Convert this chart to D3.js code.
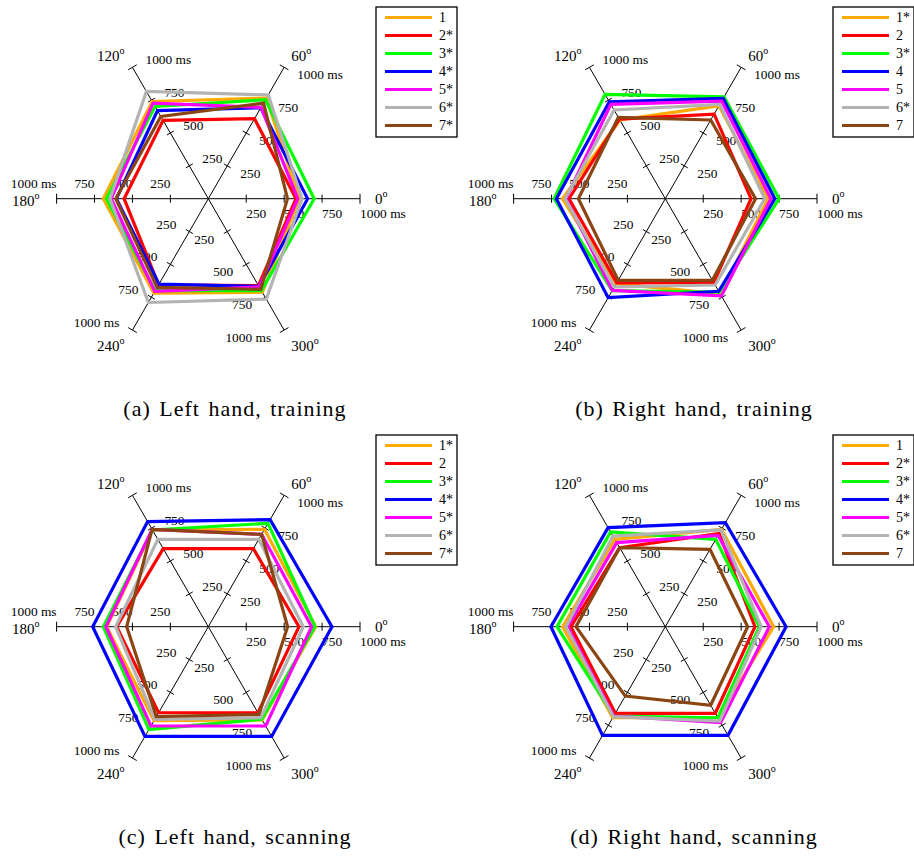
<!DOCTYPE html>
<html>
<head>
<meta charset="utf-8">
<script src="https://cdn.jsdelivr.net/npm/d3@7"></script>
<style>
  body { margin: 0; background: #fff; }
  svg { display: block; }
</style>
</head>
<body>
<svg id="chart" width="914" height="860"></svg>
<script>
// Movement directions (degrees) and radial tick values (ms)
const angles = [0, 60, 120, 180, 240, 300];
const radialTicks = [250, 500, 750, 1000];

const captions = [
  "(a) Left hand, training",
  "(b) Right hand, training",
  "(c) Left hand, scanning",
  "(d) Right hand, scanning"
];

// Legend entries per panel (asterisk marks a significant subject)
const legendA = ["1", "2*", "3*", "4*", "5*", "6*", "7*"];
const legendB = ["1*", "2", "3*", "4", "5", "6*", "7"];
const legendC = ["1*", "2", "3*", "4*", "5*", "6*", "7*"];
const legendD = ["1", "2*", "3*", "4*", "5*", "6*", "7"];

// Mean reaction time (ms) per subject, in the order of `angles`
const leftTraining = [
  [600, 766, 740, 692, 718, 712],
  [578, 609, 596, 555, 655, 661],
  [698, 753, 702, 672, 700, 700],
  [655, 692, 670, 606, 650, 668],
  [590, 695, 728, 640, 706, 672],
  [618, 790, 816, 648, 790, 764],
  [522, 728, 626, 610, 675, 690]
];
const rightTraining = [
  [678, 707, 599, 678, 647, 725],
  [565, 644, 606, 635, 640, 639],
  [750, 775, 794, 733, 700, 712],
  [722, 763, 738, 718, 753, 705],
  [696, 743, 718, 655, 698, 740],
  [656, 718, 675, 661, 672, 657],
  [595, 599, 619, 573, 621, 621]
];
const leftScanning = [
  [708, 741, 736, 670, 715, 710],
  [598, 594, 594, 604, 655, 655],
  [703, 787, 736, 692, 782, 705],
  [815, 815, 800, 762, 835, 835],
  [681, 703, 741, 675, 756, 756],
  [626, 665, 665, 611, 705, 693],
  [523, 703, 741, 538, 685, 668]
];
const rightScanning = [
  [714, 741, 665, 677, 693, 693],
  [591, 710, 602, 622, 659, 659],
  [620, 665, 721, 714, 680, 693],
  [796, 792, 754, 754, 827, 827],
  [686, 695, 640, 644, 680, 730],
  [631, 736, 690, 655, 685, 718],
  [543, 589, 602, 589, 528, 598]
];

const panelValues = [leftTraining, rightTraining, leftScanning, rightScanning];
const panelLegends = [legendA, legendB, legendC, legendD];

const colors = ["#FFAA00", "#FF0000", "#00FF00", "#0000FF", "#FF00FF", "#B3B3B3", "#8B4513"];
const SERIF = "'Liberation Serif', 'Times New Roman', Times, serif";

const svg = d3.select("#chart");
const R = 151.7;
const r = d3.scaleLinear().domain([0, 1000]).range([0, R]);
const rad = a => a * Math.PI / 180;

const panelOrigins = [[0, 0], [457, 0], [0, 428], [457, 428]];
const captionX = [235, 694, 235, 694];

// Angle label placement relative to each axis end
const angleLabelPos = {
  0:   { dx: 15,  dy: 0,   anchor: "start" },
  60:  { dx: 7,   dy: -11, anchor: "start" },
  120: { dx: -8,  dy: -11, anchor: "end" },
  180: { dx: -17, dy: 2,   anchor: "end" },
  240: { dx: -8,  dy: 16,  anchor: "end" },
  300: { dx: 7,   dy: 16,  anchor: "start" }
};

panelValues.forEach((series, pi) => {
  const [ox, oy] = panelOrigins[pi];
  const cx = ox + 208.3, cy = oy + 198.7;
  const g = svg.append("g");
  const pt = (v, a) => [cx + r(v) * Math.cos(rad(a)), cy - r(v) * Math.sin(rad(a))];

  // axes
  angles.forEach(a => {
    const [x2, y2] = pt(1000, a);
    g.append("line").attr("x1", cx).attr("y1", cy).attr("x2", x2).attr("y2", y2)
      .attr("stroke", "#000").attr("stroke-width", 1);
    const nx = Math.sin(rad(a)), ny = Math.cos(rad(a)); // perpendicular (screen coords)
    radialTicks.forEach(t => {
      const [tx, ty] = pt(t, a);
      const h = t === 1000 ? 5 : 4;
      g.append("line")
        .attr("x1", tx - nx * h).attr("y1", ty - ny * h)
        .attr("x2", tx + nx * h).attr("y2", ty + ny * h)
        .attr("stroke", "#000").attr("stroke-width", 1);
      // tick label, offset to one side of the axis
      const lx = tx + 15 * nx;
      const ly = ty + 15 * ny;
      g.append("text")
        .attr("x", lx).attr("y", ly)
        .attr("dominant-baseline", "central")
        .attr("text-anchor", a < 180 ? "start" : "end")
        .attr("font-family", SERIF)
        .attr("font-size", 13.4)
        .text(t === 1000 ? "1000 ms" : String(t));
    });
    // direction label with superscript degree mark
    const p = angleLabelPos[a];
    const lab = g.append("text")
      .attr("x", x2 + p.dx).attr("y", y2 + p.dy + 5)
      .attr("text-anchor", p.anchor)
      .attr("font-family", SERIF)
      .attr("font-size", 15);
    lab.append("tspan").text(String(a));
    lab.append("tspan").attr("dy", -7).attr("font-size", 10).text("o");
  });

  // one closed polygon per subject
  const line = d3.line().curve(d3.curveLinearClosed);
  series.forEach((vals, si) => {
    g.append("path")
      .attr("d", line(vals.map((v, k) => pt(v, angles[k]))))
      .attr("fill", "none")
      .attr("stroke", colors[si])
      .attr("stroke-width", 3.2)
      .attr("stroke-linejoin", "miter");
  });

  // legend
  const lg = g.append("g").attr("transform", `translate(${ox + 376},${oy + 7})`);
  lg.append("rect").attr("x", 0).attr("y", 0).attr("width", 81).attr("height", 130)
    .attr("fill", "#fff").attr("stroke", "#000").attr("stroke-width", 1.3);
  panelLegends[pi].forEach((lbl, si) => {
    const yy = 10.5 + si * 18;
    lg.append("line").attr("x1", 9).attr("x2", 56).attr("y1", yy).attr("y2", yy)
      .attr("stroke", colors[si]).attr("stroke-width", 3);
    lg.append("text").attr("x", 63).attr("y", yy).attr("dominant-baseline", "central")
      .attr("font-family", SERIF).attr("font-size", 14).text(lbl);
  });

  // caption
  svg.append("text")
    .attr("x", captionX[pi]).attr("y", oy + 416)
    .attr("text-anchor", "middle")
    .attr("font-family", SERIF)
    .attr("font-size", 22)
    .attr("letter-spacing", 1)
    .attr("word-spacing", 2)
    .text(captions[pi]);
});
</script>
</body>
</html>
